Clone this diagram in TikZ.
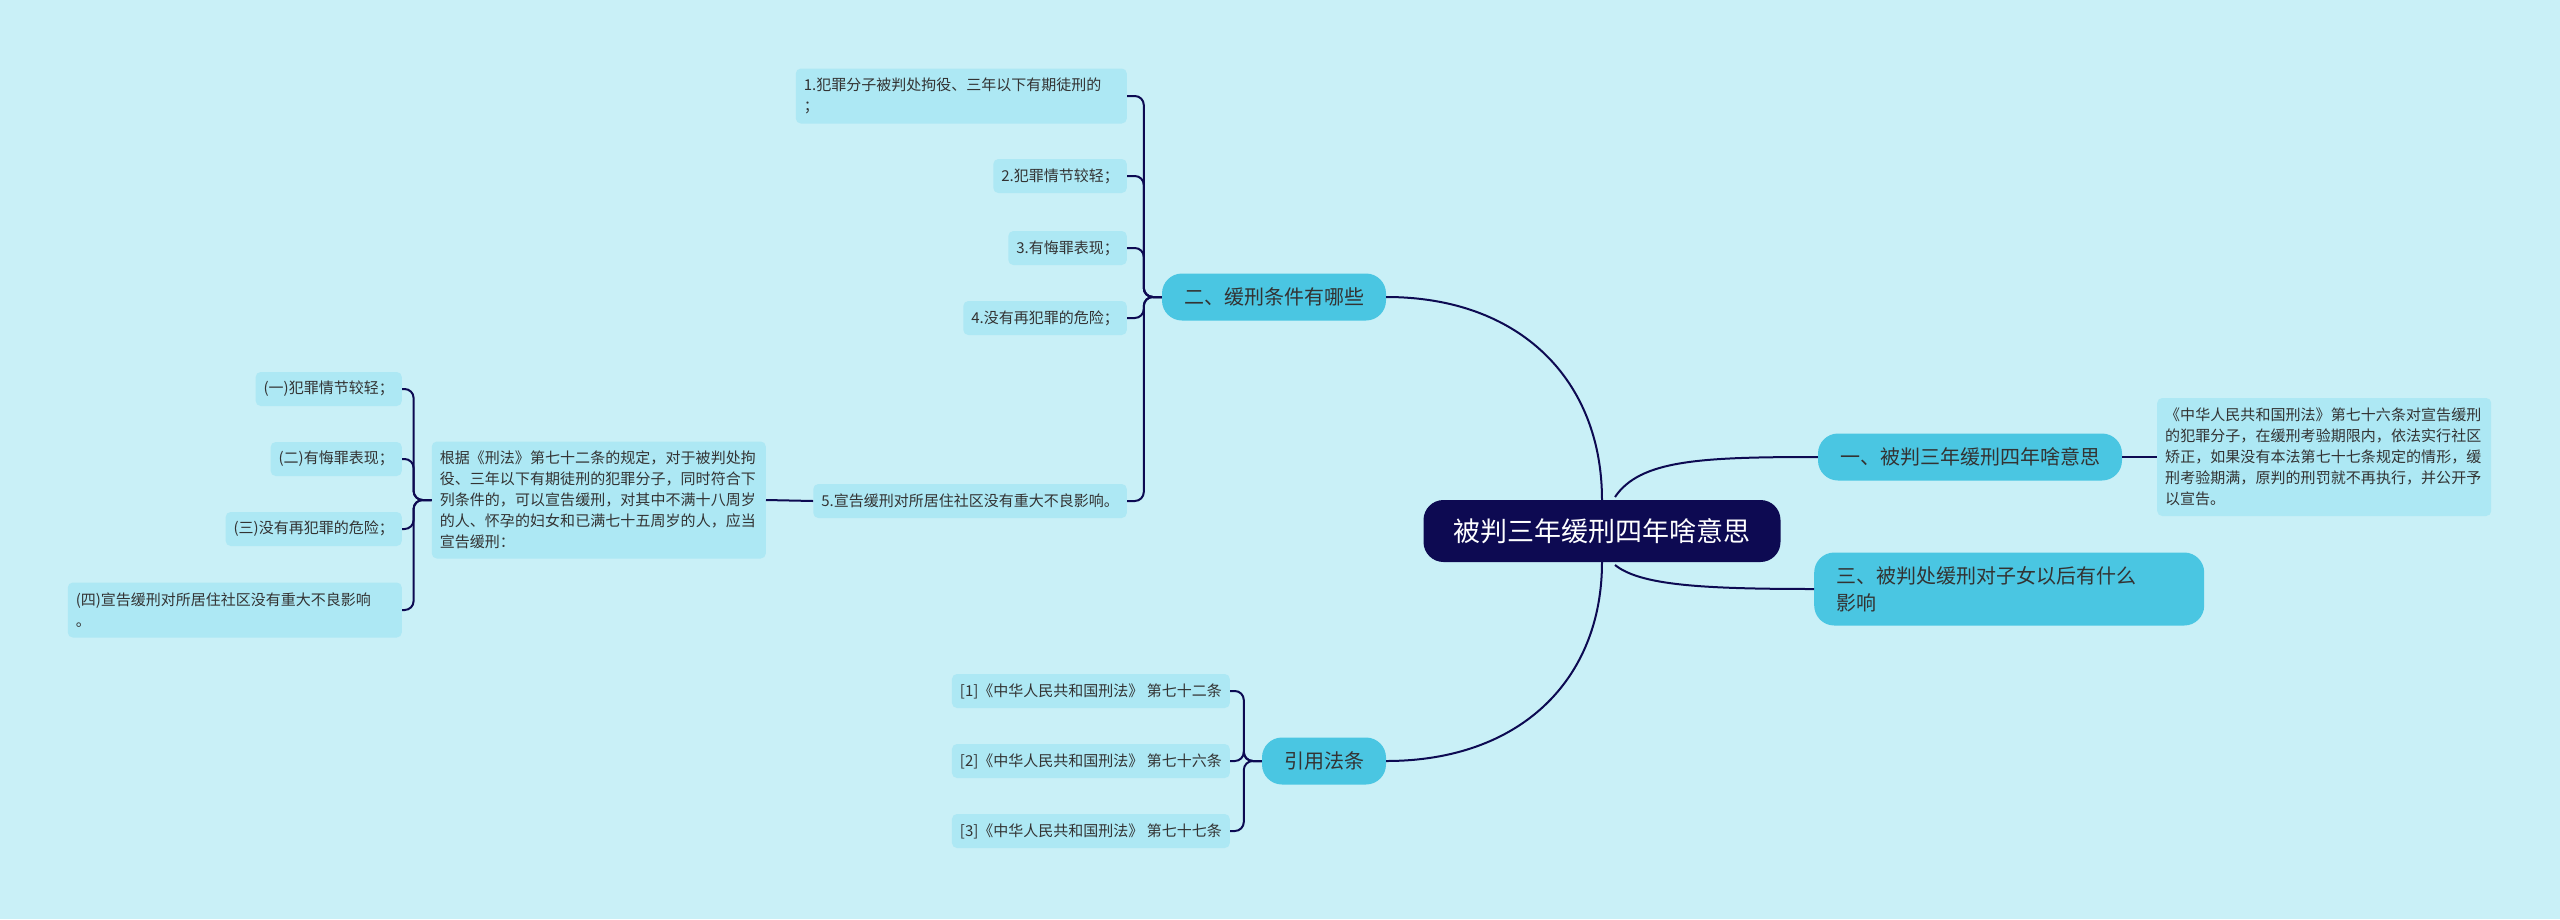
\documentclass[tikz,border=0pt]{standalone}
\usepackage{fontspec}
\setmainfont{Noto Sans CJK SC}
\XeTeXlinebreaklocale "zh"
\XeTeXlinebreakskip=0pt plus 1pt
\begin{document}
\begin{tikzpicture}[x=1pt,y=-1pt,
  rootbox/.style={rounded corners=20pt,fill=rootc,text=white,font=\fontsize{27}{32}\selectfont,minimum height=62pt,inner xsep=30pt},
  lone/.style={rounded corners=20pt,fill=lonec,text=txt,font=\fontsize{20}{27}\selectfont,minimum height=47pt,inner xsep=22pt},
  leaf/.style={rounded corners=5pt,fill=leafc,text=txt,font=\fontsize{15}{21}\selectfont,minimum height=34pt,inner xsep=8pt,align=left},
  conn/.style={draw=rootc,line width=2pt},
  br/.style={conn,rounded corners=9pt}]
\definecolor{rootc}{HTML}{0D0A52}
\definecolor{lonec}{HTML}{4AC6E2}
\definecolor{leafc}{HTML}{ADE8F4}
\definecolor{txt}{HTML}{333333}
\definecolor{bgc}{HTML}{C9F0F7}
\fill[bgc] (0,0) rectangle (2560,919);
\useasboundingbox (0,0) rectangle (2560,919);

\node[rootbox] (root) at (1602,531) {被判三年缓刑四年啥意思};
\node[lone] (b2) at (1274,297) {二、缓刑条件有哪些};
\node[lone] (b1) at (1970,457) {一、被判三年缓刑四年啥意思};
\node[lone,anchor=west,align=left,minimum height=73pt,text width=346pt] (b3) at (1814,589) {三、被判处缓刑对子女以后有什么\\影响};
\node[lone] (b4) at (1324,761) {引用法条};

\node[leaf,anchor=east,text width=315pt,minimum height=55pt] (a1) at (1127,96) {1.犯罪分子被判处拘役、三年以下有期徒刑的\\；};
\node[leaf,anchor=east] (a2) at (1127,176) {2.犯罪情节较轻；};
\node[leaf,anchor=east] (a3) at (1127,248) {3.有悔罪表现；};
\node[leaf,anchor=east] (a4) at (1127,318) {4.没有再犯罪的危险；};
\node[leaf,anchor=east] (a5) at (1127,501) {5.宣告缓刑对所居住社区没有重大不良影响。};
\node[leaf,anchor=east,text width=318pt,minimum height=117pt] (g) at (766,500) {根据《刑法》第七十二条的规定，对于被判处拘役、三年以下有期徒刑的犯罪分子，同时符合下列条件的，可以宣告缓刑，对其中不满十八周岁的人、怀孕的妇女和已满七十五周岁的人，应当宣告缓刑：};
\node[leaf,anchor=east] (c1) at (402,389) {(一)犯罪情节较轻；};
\node[leaf,anchor=east] (c2) at (402,459) {(二)有悔罪表现；};
\node[leaf,anchor=east] (c3) at (402,529) {(三)没有再犯罪的危险；};
\node[leaf,anchor=east,text width=318pt,minimum height=55pt] (c4) at (402,610) {(四)宣告缓刑对所居住社区没有重大不良影响\\。};
\node[leaf,anchor=west,text width=318pt,minimum height=118pt] (d1) at (2157,457) {《中华人民共和国刑法》第七十六条对宣告缓刑的犯罪分子，在缓刑考验期限内，依法实行社区矫正，如果没有本法第七十七条规定的情形，缓刑考验期满，原判的刑罚就不再执行，并公开予以宣告。};
\node[leaf,anchor=east] (e1) at (1230,691) {[1]《中华人民共和国刑法》 第七十二条};
\node[leaf,anchor=east] (e2) at (1230,761) {[2]《中华人民共和国刑法》 第七十六条};
\node[leaf,anchor=east] (e3) at (1230,831) {[3]《中华人民共和国刑法》 第七十七条};

\coordinate (rt) at (1602,500);
\coordinate (rb) at (1602,562);
\draw[conn] (rt) .. controls (1602,380) and (1520,297) .. (b2.east);
\draw[conn] (rb) .. controls (1602,680) and (1520,761) .. (b4.east);
\draw[conn] (1615,497) .. controls (1640,460) and (1700,457) .. (b1.west);
\draw[conn] (1615,565) .. controls (1640,585) and (1700,589) .. (b3.west);
\draw[conn] (b1.east) -- (d1.west);

\foreach \c in {a1,a2,a3,a4,a5}
  \draw[br] (b2.west) -- ++(-18,0) |- (\c.east);
\foreach \c in {c1,c2,c3,c4}
  \draw[br] (g.west) -- ++(-18,0) |- (\c.east);
\foreach \c in {e1,e2,e3}
  \draw[br] (b4.west) -- ++(-18,0) |- (\c.east);
\draw[conn] (a5.west) -- (g.east);
\end{tikzpicture}
\end{document}
